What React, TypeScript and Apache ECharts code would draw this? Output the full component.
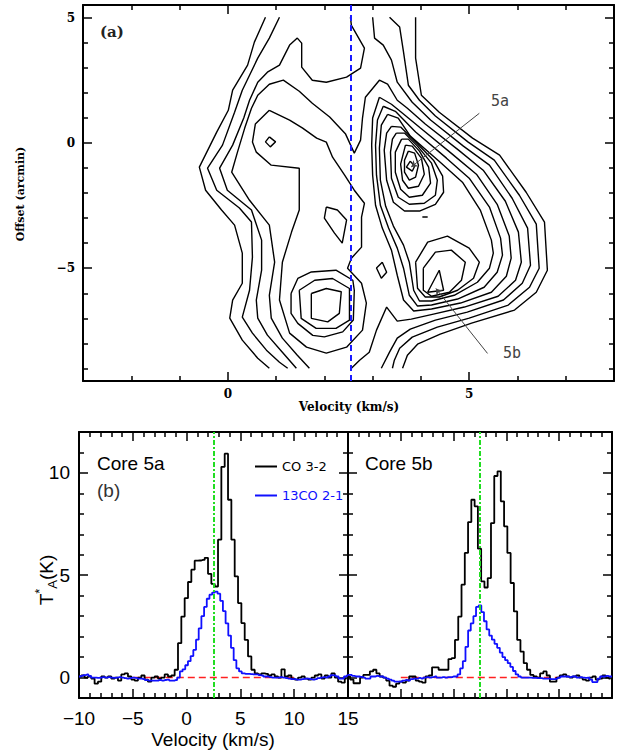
import React, { useEffect, useRef } from "react";
import * as echarts from "echarts";

// ---------- spectra (channel values, K) ----------
const CO_V0 = -9.945;
const CO_DV = 0.31;
const C13_V0 = -10;
const C13_DV = 0.25;

const co32Core5a = [
  0.05, 0.1, 0.0, 0.05, -0.05, -0.3, -0.2, 0.05, 0.0, 0.05,
  -0.05, 0.0, -0.15, 0.15, 0.2, 0.05, -0.1, -0.15, 0.0, 0.1,
  -0.1, -0.2, 0.0, 0.05, -0.05, 0.0, 0.15, 0.05, 0.1, 0.38,
  1.68, 2.98, 3.88, 4.67, 5.27, 5.71, 5.72, 5.75, 5.85, 5.07,
  4.58, 4.45, 6.74, 10.3, 10.94, 8.69, 6.74, 4.94, 3.64, 2.66,
  1.84, 1.03, 0.38, 0.2, 0.15, 0.2, 0.18, 0.1, 0.15, 0.05,
  0.0, 0.4, 0.05, 0.1, -0.05, -0.1, 0.0, 0.05, -0.05, -0.1,
  0.0, 0.1, 0.15, -0.05, 0.1, 0.0, 0.2, 0.0, -0.2, -0.25,
  -0.05,
];

const c13Core5a = [
  0.05, 0.08, 0.12, 0.15, 0.08, 0.0, 0.0, -0.02, 0.0, 0.02,
  0.0, 0.02, 0.0, -0.02, 0.0, 0.02, 0.0, -0.03, -0.05, -0.03,
  0.0, -0.02, -0.05, -0.05, -0.08, -0.12, -0.15, -0.15, -0.15, -0.15,
  -0.12, -0.15, -0.12, -0.1, -0.15, -0.15, -0.12, 0.0, 0.3, 0.4,
  0.6, 0.8, 1.05, 1.35, 1.85, 2.4, 3.0, 3.45, 3.85, 4.05,
  4.15, 4.2, 4.1, 3.75, 3.25, 2.65, 2.05, 1.45, 0.85, 0.45,
  0.3, 0.2, 0.18, 0.18, 0.17, 0.15, 0.15, 0.12, 0.1, 0.05,
  0.05, 0.02, 0.0, 0.0, 0.0, 0.02, 0.0, -0.03, -0.05, -0.08,
  -0.08, -0.1, -0.1, -0.08, -0.05, -0.05, -0.08, -0.1, -0.08, -0.03,
  0.0, 0.02, 0.0, 0.05, 0.12, 0.1, 0.05, -0.05, -0.05, 0.05,
  0.1,
];

const co32Core5b = [
  0.05, -0.1, -0.28, -0.28, 0.0, 0.13, 0.13, 0.3, 0.38, 0.2,
  0.05, 0.0, -0.15, -0.4, -0.45, -0.3, -0.2, -0.25, -0.15, 0.05,
  0.05, -0.15, -0.2, -0.25, 0.05, 0.1, 0.5, 0.5, 0.38, 0.38,
  0.38, 0.9, 0.95, 1.84, 2.98, 4.54, 6.09, 7.6, 8.69, 8.37,
  6.3, 4.7, 4.4, 4.86, 7.55, 9.85, 10.08, 8.61, 7.39, 6.09,
  4.62, 3.23, 1.84, 1.27, 0.7, 0.38, 0.13, 0.05, 0.0, 0.2,
  0.3, 0.1, -0.2, -0.2, 0.0, 0.1, 0.15, 0.05, 0.0, 0.05,
  0.1, 0.0, -0.1, -0.15, 0.0, 0.05, -0.1, -0.05, 0.1, 0.0,
  -0.05,
];

const c13Core5b = [
  0.13, 0.13, 0.08, 0.05, 0.05, 0.03, 0.0, -0.05, -0.05, 0.05,
  0.05, 0.08, 0.05, 0.05, 0.0, -0.05, -0.1, -0.15, -0.2, -0.2,
  -0.2, -0.15, -0.12, -0.15, -0.08, -0.05, -0.05, -0.02, -0.05, 0.0,
  0.02, 0.0, 0.02, 0.05, 0.0, 0.0, 0.02, 0.0, 0.02, 0.02,
  0.05, 0.05, 0.15, 0.45, 0.8, 1.5, 2.3, 2.65, 3.0, 3.45,
  3.52, 3.2, 2.75, 2.35, 2.05, 1.85, 1.65, 1.45, 1.22, 1.0,
  0.85, 0.7, 0.52, 0.32, 0.15, 0.05, 0.0, 0.0, 0.0, 0.0,
  -0.02, -0.02, -0.03, -0.03, -0.05, -0.05, -0.05, -0.08, -0.08, -0.05,
  0.0, 0.05, 0.05, 0.05, 0.02, 0.05, 0.05, 0.0, 0.02, 0.0,
  -0.02, 0.0, -0.1, -0.22, -0.22, -0.05, 0.05, 0.05, 0.08, 0.05,
  0.05,
];

const systemicVelocity = 2.5;
const baselineRange = [-5, 10];
const pvCutVelocity = 2.55;

// ---------- position-velocity contours: [velocity km/s, offset arcmin] ----------
const contourLeft1 = [
  [0.78, 5.01], [0.55, 4.02], [0.41, 3.1], [0.1, 2.1], [0.01, 1.3], [-0.23, 0.43], [-0.59, -0.97],
  [-0.46, -1.89], [-0.13, -2.68], [0.14, -3.28], [0.3, -4.4], [0.3, -5.6], [0.1, -6.27], [0.04, -6.99],
  [0.3, -7.87], [0.62, -8.59], [0.86, -8.99],
];
const contourLeft2 = [
  [1.07, 5.01], [0.86, 4.18], [0.62, 3.38], [0.45, 2.7], [0.3, 2.1], [0.14, 1.22], [-0.11, -0.09],
  [-0.42, -1.01], [-0.23, -1.89], [0.24, -2.6], [0.49, -3.16], [0.51, -4.56], [0.45, -5.88], [0.3, -6.95],
  [0.51, -7.59], [0.8, -8.27], [1.07, -8.75], [1.24, -8.99],
];
const contourLeft3 = [
  [2.54, 5.01], [2.56, 4.69], [2.83, 3.78], [2.75, 2.98], [2.46, 2.62], [2.04, 2.42], [1.75, 2.5],
  [1.53, 3.02], [1.53, 3.98], [1.44, 4.18], [1.28, 3.9], [1.07, 3.1], [0.82, 2.82], [0.62, 2.42],
  [0.45, 1.7], [0.33, 0.99], [0.1, -0.09], [-0.17, -1.01], [-0.01, -1.89], [0.49, -2.68], [0.7, -3.88],
  [0.7, -5.08], [0.59, -6.27], [0.62, -6.99], [0.82, -7.67], [1.13, -8.35], [1.42, -8.99],
];
const contourLevel4 = [
  [1.69, -8.99], [1.44, -8.47], [1.13, -7.79], [0.9, -6.99], [0.86, -6.08], [0.97, -4.76], [0.86, -3.28],
  [0.45, -2.29], [0.08, -1.17], [0.2, -0.37], [0.35, 0.59], [0.49, 1.38], [0.62, 1.9], [0.86, 2.34],
  [1.15, 2.5], [1.48, 2.06], [1.75, 1.58], [2.11, 1.03], [2.44, 0.35], [2.62, -0.41], [2.75, 0.11],
  [2.79, 0.99], [2.85, 1.82], [3.14, 2.5], [3.31, 2.34], [3.51, 1.7], [3.72, 1.38], [4.09, 0.75],
  [4.78, -0.29], [5.29, -1.09], [5.75, -2.33], [6.02, -3.56], [6.08, -4.76], [5.96, -5.48], [5.6, -6.12],
  [4.9, -6.55], [4.26, -6.83], [3.8, -7.03], [3.51, -7.11], [3.29, -6.55], [3.08, -7.47], [2.93, -8.35],
  [2.73, -8.67], [2.56, -8.99],
];
const contourRight1 = [
  [3.89, 5.01], [3.89, 3.38], [4.01, 1.9], [4.38, 1.22], [5.07, 0.19], [5.63, -0.49], [6.18, -1.97],
  [6.56, -3.16], [6.62, -5.08], [6.39, -5.96], [5.94, -6.67], [5.05, -7.19], [4.4, -7.63], [3.93, -8.03],
  [3.72, -8.47], [3.62, -8.99],
];
const contourRight2 = [
  [3.35, 5.01], [3.56, 4.62], [3.64, 3.62], [3.74, 2.3], [3.97, 1.7], [4.3, 1.07], [4.98, 0.03],
  [5.52, -0.69], [6.04, -2.09], [6.39, -3.24], [6.45, -5.0], [6.25, -5.76], [5.81, -6.47], [5.0, -6.99],
  [4.34, -7.35], [3.82, -7.75], [3.56, -8.19], [3.45, -8.67], [3.41, -8.99],
];
const contourRight3 = [
  [3.0, 5.01], [3.04, 4.18], [3.22, 3.9], [3.39, 3.3], [3.51, 2.42], [3.82, 1.62], [4.2, 0.91],
  [4.88, -0.13], [5.42, -0.89], [5.89, -2.21], [6.21, -3.4], [6.27, -4.88], [6.1, -5.6], [5.71, -6.27],
  [4.96, -6.75], [4.3, -7.07], [3.78, -7.43], [3.51, -7.79], [3.35, -8.35], [3.18, -8.99],
];
const contourLevel5 = [
  [0.86, 1.3], [1.28, 0.91], [1.55, 0.59], [1.84, 0.19], [2.04, 0.03], [2.17, -0.57], [2.42, -1.29],
  [2.62, -1.89], [2.83, -2.41], [2.77, -2.96], [2.77, -4.16], [2.56, -4.6], [2.48, -5.0], [2.77, -5.6],
  [2.87, -6.39], [2.79, -7.47], [2.46, -8.15], [2.04, -8.39], [1.63, -8.15], [1.28, -7.59], [1.07, -6.27],
  [1.13, -4.76], [1.32, -3.56], [1.48, -2.68], [1.48, -1.01], [0.9, -0.89], [0.59, -0.37], [0.51, 0.03],
  [0.57, 0.75], [0.86, 1.3],
];
const contourLeftPeak = [[0.86, 0.24], [0.99, 0.04], [0.88, -0.16], [0.78, 0.04], [0.86, 0.24]];
const contourKnot = [
  [2.04, -2.56], [2.27, -2.68], [2.46, -3.08], [2.37, -4.0], [2.21, -3.6], [2.0, -3.0], [2.04, -2.56],
];
const contourSaddle = [[3.2, -4.76], [3.29, -5.16], [3.18, -5.4], [3.08, -4.99], [3.2, -4.76]];
const contourSpeck = [[4.03, -2.96], [4.14, -2.96]];
const contourSouth1 = [
  [1.73, -6.01], [2.04, -5.81], [2.35, -5.94], [2.31, -6.8], [2.07, -7.14], [1.73, -7.0], [1.73, -6.01],
];
const contourSouth2 = [
  [1.48, -5.88], [1.8, -5.48], [2.17, -5.41], [2.52, -5.81], [2.52, -7.07], [2.24, -7.4],
  [1.83, -7.4], [1.52, -7.0], [1.48, -5.88],
];
const contourSouth3 = [
  [1.31, -6.01], [1.45, -5.41], [1.73, -5.15], [2.24, -5.08], [2.59, -5.48], [2.62, -5.88],
  [2.6, -7.07], [2.38, -7.54], [2.0, -7.74], [1.76, -7.68], [1.45, -7.2], [1.31, -6.8], [1.31, -6.01],
];
const contourRidge1 = [
  [3.14, 1.82], [3.39, 1.54], [3.62, 1.18], [3.99, 0.59], [4.65, -0.45], [5.15, -1.25], [5.58, -2.45],
  [5.83, -3.72], [5.87, -4.6], [5.77, -5.32], [5.46, -5.96], [4.82, -6.39], [4.22, -6.63], [3.85, -6.71],
  [3.64, -6.27], [3.51, -5.28], [3.39, -4.28], [3.2, -3.4], [3.06, -2.49], [3.0, -1.29], [2.98, -0.09],
  [3.0, 0.99], [3.14, 1.82],
];
const contourRidge2 = [
  [3.22, 1.46], [3.47, 1.26], [3.89, 0.43], [4.53, -0.61], [5.0, -1.41], [5.42, -2.56], [5.65, -3.8],
  [5.69, -4.48], [5.58, -5.16], [5.31, -5.76], [4.76, -6.23], [4.22, -6.47], [3.93, -6.51], [3.76, -6.08],
  [3.64, -5.0], [3.51, -4.2], [3.33, -3.4], [3.16, -2.49], [3.08, -1.29], [3.06, -0.09], [3.1, 0.91],
  [3.22, 1.46],
];
const contourRidge3 = [
  [3.31, 1.14], [3.53, 0.99], [3.78, 0.27], [4.4, -0.77], [4.86, -1.57], [5.23, -2.68], [5.46, -3.88],
  [5.5, -4.4], [5.42, -5.0], [5.17, -5.56], [4.69, -6.08], [4.22, -6.31], [3.97, -6.31], [3.85, -5.88],
  [3.76, -4.76], [3.64, -4.08], [3.43, -3.32], [3.27, -2.53], [3.16, -1.49], [3.14, -0.21], [3.18, 0.71],
  [3.31, 1.14],
];
const contour5a6 = [
  [3.39, 0.66], [3.58, 0.63], [3.89, 0.03], [4.26, -0.69], [4.45, -1.33], [4.47, -1.97], [4.3, -2.45],
  [3.97, -2.72], [3.66, -2.72], [3.43, -2.37], [3.29, -1.49], [3.24, -0.29], [3.29, 0.39], [3.39, 0.66],
];
const contour5a5 = [
  [3.49, 0.39], [3.66, 0.39], [3.93, -0.13], [4.22, -0.81], [4.34, -1.49], [4.3, -2.09], [4.07, -2.41],
  [3.76, -2.45], [3.53, -2.17], [3.39, -1.41], [3.37, -0.37], [3.41, 0.15], [3.49, 0.39],
];
const contour5a4 = [
  [3.6, 0.15], [3.74, 0.15], [3.97, -0.33], [4.16, -0.97], [4.2, -1.61], [4.03, -2.09], [3.76, -2.17],
  [3.58, -1.85], [3.47, -1.17], [3.47, -0.37], [3.6, 0.15],
];
const contour5a3 = [
  [3.68, -0.09], [3.82, -0.13], [4.01, -0.61], [4.07, -1.25], [3.95, -1.73], [3.74, -1.81], [3.62, -1.49],
  [3.58, -0.85], [3.68, -0.09],
];
const contour5a2 = [
  [3.74, -0.33], [3.87, -0.41], [3.95, -0.89], [3.89, -1.37], [3.76, -1.49], [3.66, -1.17], [3.66, -0.69],
  [3.74, -0.33],
];
const contour5aPeak = [[3.78, -0.73], [3.87, -0.93], [3.82, -1.13], [3.7, -0.97], [3.78, -0.73]];
const contour5b3 = [
  [3.89, -4.76], [4.14, -3.96], [4.55, -3.72], [5.0, -4.2], [5.21, -4.76], [5.09, -5.4], [4.76, -5.88],
  [4.38, -6.15], [4.09, -6.15], [3.93, -5.8], [3.89, -4.76],
];
const contour5b2 = [
  [4.05, -5.0], [4.3, -4.36], [4.63, -4.28], [4.92, -4.76], [4.84, -5.48], [4.59, -5.96], [4.22, -6.12],
  [4.05, -5.88], [4.05, -5.0],
];
const contour5bPeak = [[4.38, -5.08], [4.47, -5.88], [4.14, -5.96], [4.38, -5.08]];

const contours = [
  contourLeft1, contourLeft2, contourLeft3, contourLevel4, contourLevel5, contourLeftPeak,
  contourRight1, contourRight2, contourRight3,
  contourKnot, contourSaddle, contourSpeck,
  contourSouth1, contourSouth2, contourSouth3,
  contourRidge1, contourRidge2, contourRidge3,
  contour5a6, contour5a5, contour5a4, contour5a3, contour5a2, contour5aPeak,
  contour5b3, contour5b2, contour5bPeak,
];

// arrows for the cores: [from, to]
const arrow5a = [[5.21, 1.18], [3.8, -0.96]];
const arrow5b = [[5.38, -8.4], [4.31, -5.81]];

// ticks
const pvVelMajor = [0, 5];
const pvVelMinor = [-2, -1, 1, 2, 3, 4, 6, 7];
const pvOffMajor = [-5, 0, 5];
const pvOffMinor = [-9, -8, -7, -6, -4, -3, -2, -1, 1, 2, 3, 4];
const specVelMajor = [-5, 0, 5, 10];
const specVelMinor = [-9, -8, -7, -6, -4, -3, -2, -1, 1, 2, 3, 4, 6, 7, 8, 9, 11, 12, 13, 14];
const specVelLabels = [-10, -5, 0, 5, 10, 15];
const specTMajor = [0, 5, 10];
const specTMinor = [1, 2, 3, 4, 6, 7, 8, 9, 11];

const minus = (v: number) => String(v).replace("-", "\u2212");

function xAxes(grid: number, min: number, max: number, majors: number[], minors: number[], labels: number[] | null, labelStyle: any, majorLen: number, minorLen: number) {
  const base = {
    type: "value", gridIndex: grid, min, max,
    splitLine: { show: false },
    axisLine: { show: true, onZero: false, lineStyle: { color: "#000", width: 2 } },
  };
  const tickStyle = { color: "#000", width: 1.5 };
  return [
    { ...base, position: "bottom", axisTick: { inside: true, length: majorLen, customValues: majors, lineStyle: tickStyle },
      axisLabel: labels ? { ...labelStyle, customValues: labels, formatter: (v: number) => minus(v) } : { show: false } },
    { ...base, position: "top", axisTick: { inside: true, length: majorLen, customValues: majors, lineStyle: tickStyle }, axisLabel: { show: false } },
    { ...base, position: "top", axisLine: { show: false, onZero: false }, axisTick: { inside: true, length: minorLen, customValues: minors, lineStyle: tickStyle }, axisLabel: { show: false } },
    { ...base, position: "bottom", axisLine: { show: false, onZero: false }, axisTick: { inside: true, length: minorLen, customValues: minors, lineStyle: tickStyle }, axisLabel: { show: false } },
  ];
}
function yAxes(grid: number, min: number, max: number, majors: number[], minors: number[], labels: number[] | null, labelStyle: any, majorLen: number, minorLen: number) {
  const base = {
    type: "value", gridIndex: grid, min, max,
    splitLine: { show: false },
    axisLine: { show: true, onZero: false, lineStyle: { color: "#000", width: 2 } },
  };
  const tickStyle = { color: "#000", width: 1.5 };
  return [
    { ...base, position: "left", axisTick: { inside: true, length: majorLen, customValues: majors, lineStyle: tickStyle },
      axisLabel: labels ? { ...labelStyle, customValues: labels, formatter: (v: number) => minus(v) } : { show: false } },
    { ...base, position: "right", axisTick: { inside: true, length: majorLen, customValues: majors, lineStyle: tickStyle }, axisLabel: { show: false } },
    { ...base, position: "right", axisLine: { show: false, onZero: false }, axisTick: { inside: true, length: minorLen, customValues: minors, lineStyle: tickStyle }, axisLabel: { show: false } },
    { ...base, position: "left", axisLine: { show: false, onZero: false }, axisTick: { inside: true, length: minorLen, customValues: minors, lineStyle: tickStyle }, axisLabel: { show: false } },
  ];
}

export default function App() {
  const ref = useRef<HTMLDivElement>(null);
  useEffect(() => {
    if (!ref.current) return;
    const chart = echarts.init(ref.current, null, { renderer: "svg" });
    const pvLabel = { show: true, margin: 7, color: "#000", fontFamily: "DejaVu Serif", fontWeight: "bold", fontSize: 12, hideOverlap: false };
    const spLabel = { show: true, margin: 11, color: "#000", fontFamily: "Liberation Sans", fontSize: 19, hideOverlap: false };
    const spLabelY = { ...spLabel, margin: 9 };

    const xAxis = [
      ...xAxes(0, -3, 8, pvVelMajor, pvVelMinor, pvVelMajor, pvLabel, 9, 5),
      ...xAxes(1, -10, 15, specVelMajor, specVelMinor, specVelLabels, spLabel, 9, 5),
      ...xAxes(2, -10, 15, specVelMajor, specVelMinor, null, spLabel, 9, 5),
    ];
    const yAxis = [
      ...yAxes(0, -9.5, 5.5, pvOffMajor, pvOffMinor, pvOffMajor, { ...pvLabel, margin: 8 }, 9, 5),
      ...yAxes(1, -1, 12, specTMajor, specTMinor, specTMajor, spLabelY, 9, 5),
      ...yAxes(2, -1, 12, specTMajor, specTMinor, null, spLabelY, 9, 5),
    ];

    const series: any[] = [];
    contours.forEach((c, k) => {
      series.push({
        type: "line", name: "contour" + k, xAxisIndex: 0, yAxisIndex: 0, data: c,
        showSymbol: false, symbol: "none", lineStyle: { color: "#000", width: 1.4 }, silent: true,
        ...(k === 0 ? {
          markLine: {
            silent: true, symbol: "none", label: { show: false },
            lineStyle: { color: "#1a1aff", type: [6, 4], width: 2 },
            data: [{ xAxis: pvCutVelocity }],
          },
        } : {}),
      });
    });
    [arrow5a, arrow5b].forEach((a, k) => {
      series.push({
        type: "line", name: "arrow" + k, xAxisIndex: 0, yAxisIndex: 0, data: [], silent: true,
        markLine: {
          silent: true, symbol: ["none", "arrow"], symbolSize: 6, label: { show: false },
          lineStyle: { color: "#444", type: "solid", width: 1 },
          data: [[{ coord: a[0] }, { coord: a[1] }]],
        },
      });
    });

    const panels = [
      { grid: 1, co: co32Core5a, c13: c13Core5a },
      { grid: 2, co: co32Core5b, c13: c13Core5b },
    ];
    panels.forEach((p) => {
      const xi = p.grid * 4;
      const yi = p.grid * 4;
      series.push({
        type: "line", name: "baseline" + p.grid, xAxisIndex: xi, yAxisIndex: yi,
        data: [[baselineRange[0], 0], [baselineRange[1], 0]], showSymbol: false, symbol: "none",
        lineStyle: { color: "#ff2020", type: [7, 4], width: 1.5 }, silent: true, z: 1,
        markLine: {
          silent: true, symbol: "none", label: { show: false },
          lineStyle: { color: "#22dd22", type: [5, 2, 2, 2], width: 2 },
          data: [{ xAxis: systemicVelocity }],
        },
      });
      series.push({
        type: "line", name: "CO 3-2", xAxisIndex: xi, yAxisIndex: yi,
        data: p.co.map((t, i) => [CO_V0 + i * CO_DV, t]), step: "middle",
        showSymbol: false, symbol: "none", itemStyle: { color: "#000" },
        lineStyle: { color: "#000", width: 1.8 }, z: 3,
      });
      series.push({
        type: "line", name: "13CO 2-1", xAxisIndex: xi, yAxisIndex: yi,
        data: p.c13.map((t, i) => [C13_V0 + i * C13_DV, t]), step: "middle",
        showSymbol: false, symbol: "none", itemStyle: { color: "#1010ff" },
        lineStyle: { color: "#1010ff", width: 1.8 }, z: 4,
      });
    });

    chart.setOption({
      animation: false,
      backgroundColor: "#fff",
      grid: [
        { left: 83, top: 5, width: 531, height: 376 },
        { left: 79, top: 432, width: 269, height: 266 },
        { left: 348, top: 432, width: 264, height: 266 },
      ],
      xAxis, yAxis, series,
      legend: {
        left: 250, top: 455, orient: "vertical", itemGap: 16, itemWidth: 22, itemHeight: 2,
        icon: "rect", selectedMode: false,
        textStyle: { fontFamily: "DejaVu Sans", fontSize: 13 },
        data: [
          { name: "CO 3-2", itemStyle: { color: "#000" }, textStyle: { color: "#000" } },
          { name: "13CO 2-1", itemStyle: { color: "#1010ff" }, textStyle: { color: "#1010ff" } },
        ],
      },
      graphic: [
        { type: "text", x: 100, y: 24, style: { text: "(a)", fontFamily: "DejaVu Serif", fontWeight: "bold", fontSize: 15, fill: "#222" } },
        { type: "text", x: 20, y: 194, rotation: Math.PI / 2,
          style: { text: "Offset (arcmin)", fontFamily: "DejaVu Serif", fontWeight: "bold", fontSize: 11, fill: "#000", align: "center", verticalAlign: "middle" } },
        { type: "text", x: 349, y: 407,
          style: { text: "Velocity (km/s)", fontFamily: "DejaVu Serif", fontWeight: "bold", fontSize: 12, fill: "#000", align: "center", verticalAlign: "middle" } },
        { type: "text", x: 500, y: 101, style: { text: "5a", fontFamily: "DejaVu Sans Mono", fontSize: 15, fill: "#444", align: "center", verticalAlign: "middle" } },
        { type: "text", x: 512, y: 353, style: { text: "5b", fontFamily: "DejaVu Sans Mono", fontSize: 15, fill: "#444", align: "center", verticalAlign: "middle" } },
        { type: "text", x: 97, y: 463, style: { text: "Core 5a", fontFamily: "Liberation Sans", fontSize: 19, fill: "#000", verticalAlign: "middle" } },
        { type: "text", x: 97, y: 490, style: { text: "(b)", fontFamily: "Liberation Sans", fontSize: 19, fill: "#333", verticalAlign: "middle" } },
        { type: "text", x: 365, y: 463, style: { text: "Core 5b", fontFamily: "Liberation Sans", fontSize: 19, fill: "#000", verticalAlign: "middle" } },
        { type: "text", x: 213, y: 739,
          style: { text: "Velocity (km/s)", fontFamily: "Liberation Sans", fontSize: 19, fill: "#000", align: "center", verticalAlign: "middle" } },
        { type: "text", x: 46, y: 580, rotation: Math.PI / 2,
          style: {
            text: "{t|T}{sup|*}{sub|A}{t|(K)}", align: "center", verticalAlign: "middle",
            rich: {
              t: { fontFamily: "Liberation Sans", fontSize: 19, fill: "#000", lineHeight: 26, verticalAlign: "middle" },
              sup: { fontFamily: "Liberation Sans", fontSize: 13, fill: "#000", lineHeight: 26, verticalAlign: "top" },
              sub: { fontFamily: "Liberation Sans", fontSize: 13, fill: "#000", lineHeight: 26, verticalAlign: "bottom" },
            },
          } },
      ],
    });
    return () => chart.dispose();
  }, []);
  return <div ref={ref} style={{ width: 618, height: 751, position: "absolute", left: 0, top: 0 }} />;
}
